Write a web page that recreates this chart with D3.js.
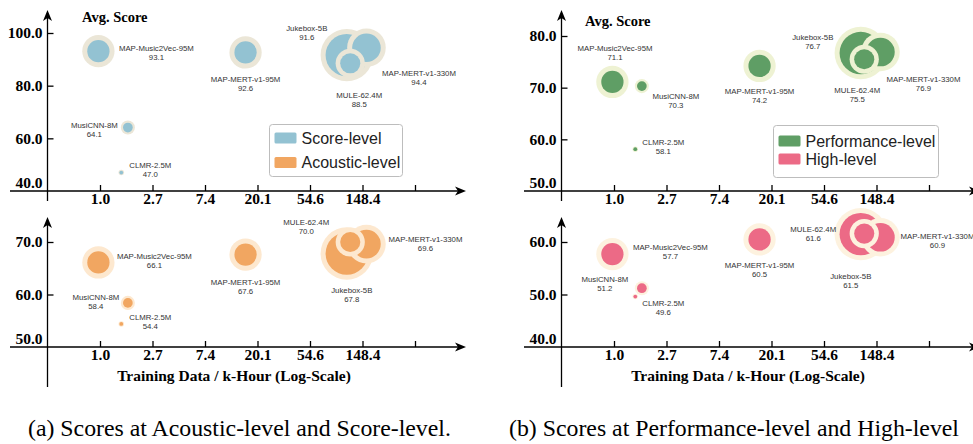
<!DOCTYPE html>
<html>
<head>
<meta charset="utf-8">
<script src="https://cdn.jsdelivr.net/npm/d3@7"></script>
<style>
  body { margin: 0; background: #fff; }
  svg { display: block; }
</style>
</head>
<body>
<div id="chart"></div>
<script>
// models, same order in every series
var models = ["MAP-Music2Vec-95M", "MusiCNN-8M", "CLMR-2.5M", "MAP-MERT-v1-95M", "Jukebox-5B", "MULE-62.4M", "MAP-MERT-v1-330M"];
var paramsM = [95, 8, 2.5, 95, 5000, 62.4, 330];        // model size (M params) -> bubble size
var trainHours = [0.97, 1.7, 1.5, 16, 110, 117.5, 160];  // k-hour, x position

var scoreLevel = [93.1, 64.1, 47.0, 92.6, 91.6, 88.5, 94.4];
var acousticLevel = [66.1, 58.4, 54.4, 67.6, 67.8, 70.0, 69.6];
var performanceLevel = [71.1, 70.3, 58.1, 74.2, 76.7, 75.5, 76.9];
var highLevel = [57.7, 51.2, 49.6, 60.5, 61.5, 61.6, 60.9];

var xTickLabels = ["1.0", "2.7", "7.4", "20.1", "54.6", "148.4", ""];

var width = 973, height = 444;

var svg = d3.select("#chart").append("svg")
  .attr("width", width)
  .attr("height", height);

// log x-axis, one tick per e-fold
var x = d3.scaleLog()
  .domain([Math.exp(-1), Math.exp(6)])
  .range([47.5, 415]);
var xTicks = d3.range(0, 7).map(Math.exp);

var r = d3.scaleLog().domain([2.5, 5000]).range([1.9, 21.2]);
function haloR(rad) { return rad + Math.min(5, 0.45 * rad); }

var serif = "'Liberation Serif', 'Times New Roman', serif";
var sans = "'Liberation Sans', Arial, Helvetica, sans-serif";

function arrowRight(g, tx, ty) {
  g.append("path")
    .attr("d", "M" + tx + "," + ty + "L" + (tx - 11) + "," + (ty - 4.5) + "L" + (tx - 8) + "," + ty + "L" + (tx - 11) + "," + (ty + 4.5) + "Z")
    .attr("fill", "#000");
}
function arrowUp(g, tx, ty) {
  g.append("path")
    .attr("d", "M" + tx + "," + ty + "L" + (tx - 4.5) + "," + (ty + 11) + "L" + tx + "," + (ty + 8) + "L" + (tx + 4.5) + "," + (ty + 11) + "Z")
    .attr("fill", "#000");
}

function subplot(g, opt) {
  var y = d3.scaleLinear().domain(opt.yDomain).range(opt.yRange);
  var axisY = opt.yRange[0];

  // bubbles, biggest first so small ones sit on top
  var order = d3.range(models.length).sort(function (a, b) { return paramsM[b] - paramsM[a]; });
  order.forEach(function (i) {
    var cx = x(trainHours[i]), cy = y(opt.values[i]), rad = r(paramsM[i]);
    g.append("circle").attr("cx", cx).attr("cy", cy).attr("r", haloR(rad)).attr("fill", opt.halo);
    g.append("circle").attr("cx", cx).attr("cy", cy).attr("r", rad).attr("fill", opt.color);
  });

  // labels
  models.forEach(function (m, i) {
    var lx = x(trainHours[i]) + opt.labels[i][0];
    var ly = y(opt.values[i]) + opt.labels[i][1];
    var t = g.append("text")
      .attr("text-anchor", "middle")
      .attr("font-family", sans)
      .attr("font-size", "7.8px")
      .attr("fill", "#333");
    t.append("tspan").attr("x", lx).attr("y", ly).text(m);
    t.append("tspan").attr("x", lx).attr("y", ly + 9).text(opt.values[i].toFixed(1));
  });

  // x axis
  var gx = g.append("g")
    .attr("transform", "translate(0," + axisY + ")")
    .call(d3.axisBottom(x)
      .tickValues(xTicks)
      .tickFormat(function (d, i) { return xTickLabels[i]; })
      .tickSizeInner(-6)
      .tickSizeOuter(0)
      .tickPadding(2));
  gx.select(".domain").remove();
  gx.selectAll(".tick line").attr("stroke", "#000").attr("stroke-width", 1.3);
  gx.selectAll("text")
    .attr("font-family", serif).attr("font-size", "15.5px").attr("font-weight", "bold").attr("fill", "#000");
  g.append("line")
    .attr("x1", 10).attr("x2", 458).attr("y1", axisY).attr("y2", axisY)
    .attr("stroke", "#000").attr("stroke-width", 1.3);
  arrowRight(g, 466, axisY);

  // y axis
  var gy = g.append("g")
    .attr("transform", "translate(" + x.range()[0] + ",0)")
    .call(d3.axisLeft(y)
      .tickValues(opt.yTicks)
      .tickFormat(d3.format(".1f"))
      .tickSizeInner(-6)
      .tickSizeOuter(0)
      .tickPadding(5));
  gy.select(".domain").remove();
  gy.selectAll(".tick line").attr("stroke", "#000").attr("stroke-width", 1.3);
  gy.selectAll("text")
    .attr("font-family", serif).attr("font-size", "15.5px").attr("font-weight", "bold").attr("fill", "#000");
  // lowest label sits just above the x-axis, without a tick
  gy.selectAll(".tick").filter(function (d) { return d === opt.yDomain[0]; })
    .each(function () {
      d3.select(this).select("line").remove();
      d3.select(this).select("text").attr("y", -8);
    });
  g.append("line")
    .attr("x1", x.range()[0]).attr("x2", x.range()[0])
    .attr("y1", opt.yEnd).attr("y2", opt.yTop + 8)
    .attr("stroke", "#000").attr("stroke-width", 1.3);
  arrowUp(g, x.range()[0], opt.yTop);
}

function legend(g, box, items) {
  g.append("rect")
    .attr("x", box.x).attr("y", box.y).attr("width", box.w).attr("height", box.h)
    .attr("rx", 3).attr("fill", "#fff").attr("fill-opacity", 0.8)
    .attr("stroke", "#bdbdbd").attr("stroke-width", 1);
  items.forEach(function (it, k) {
    var yy = box.y + box.first + k * box.step;
    g.append("rect")
      .attr("x", box.x + 5).attr("y", yy - 11).attr("width", 22).attr("height", 11)
      .attr("rx", 1.5).attr("fill", it.color);
    g.append("text")
      .attr("x", box.x + 32).attr("y", yy)
      .attr("font-family", sans).attr("font-size", "16px").attr("fill", "#222")
      .text(it.name);
  });
}

var blue = "#93c2d2", blueHalo = "#ebe6d7";
var orange = "#f1a661", orangeHalo = "#fde8cf";
var green = "#5f9e65", greenHalo = "#eef2d3";
var pink = "#ec6a86", pinkHalo = "#fdf2df";

// label offsets (px) from bubble centre
var labelsScore = [[58, -0.5], [-33.5, 0], [29, -5], [0, 30], [-40, -24], [9, 35], [52.5, 28]];
var labelsAcoustic = [[56, -3.5], [-32, -3], [29, -4], [0, 30], [5, 39], [-44, -17], [59, -2]];
var labelsPerf = [[2.6, -31], [34, 13], [28, -4], [0, 28], [-48, -13], [-7, 33.5], [43, 30]];
var labelsHigh = [[58, -4], [-37, -6], [28, 9], [0, 29], [-10, 45], [-51, -1.3], [57, 2]];

// (a)
var left = svg.append("g");
subplot(left, {
  values: scoreLevel, yDomain: [40, 100], yRange: [191, 33], yTicks: [40, 60, 80, 100],
  yTop: 10, yEnd: 201, color: blue, halo: blueHalo, labels: labelsScore
});
subplot(left, {
  values: acousticLevel, yDomain: [50, 70], yRange: [347, 242], yTicks: [50, 60, 70],
  yTop: 217, yEnd: 387, color: orange, halo: orangeHalo, labels: labelsAcoustic
});
legend(left, {x: 269.5, y: 124.5, w: 133, h: 52, first: 19, step: 24.5},
  [{name: "Score-level", color: blue}, {name: "Acoustic-level", color: orange}]);

// (b)
var right = svg.append("g").attr("transform", "translate(514,0)");
subplot(right, {
  values: performanceLevel, yDomain: [50, 80], yRange: [191, 36], yTicks: [50, 60, 70, 80],
  yTop: 10, yEnd: 201, color: green, halo: greenHalo, labels: labelsPerf
});
subplot(right, {
  values: highLevel, yDomain: [40, 60], yRange: [347, 242], yTicks: [40, 50, 60],
  yTop: 217, yEnd: 387, color: pink, halo: pinkHalo, labels: labelsHigh
});
legend(right, {x: 259.5, y: 125.5, w: 165, h: 52, first: 21, step: 18},
  [{name: "Performance-level", color: green}, {name: "High-level", color: pink}]);

// titles
[[left, 82, 22], [right, 71, 26]].forEach(function (p) {
  p[0].append("text")
    .attr("x", p[1]).attr("y", p[2])
    .attr("font-family", serif).attr("font-size", "14.5px").attr("font-weight", "bold")
    .text("Avg. Score");
  p[0].append("text")
    .attr("x", 234).attr("y", 381)
    .attr("text-anchor", "middle")
    .attr("font-family", serif).attr("font-size", "15.5px").attr("font-weight", "bold")
    .text("Training Data / k-Hour (Log-Scale)");
});

// captions
svg.append("text")
  .attr("x", 28).attr("y", 436)
  .attr("font-family", serif).attr("font-size", "23.8px")
  .text("(a) Scores at Acoustic-level and Score-level.");
svg.append("text")
  .attr("x", 509).attr("y", 436)
  .attr("font-family", serif).attr("font-size", "23.8px")
  .text("(b) Scores at Performance-level and High-level");
</script>
</body>
</html>
